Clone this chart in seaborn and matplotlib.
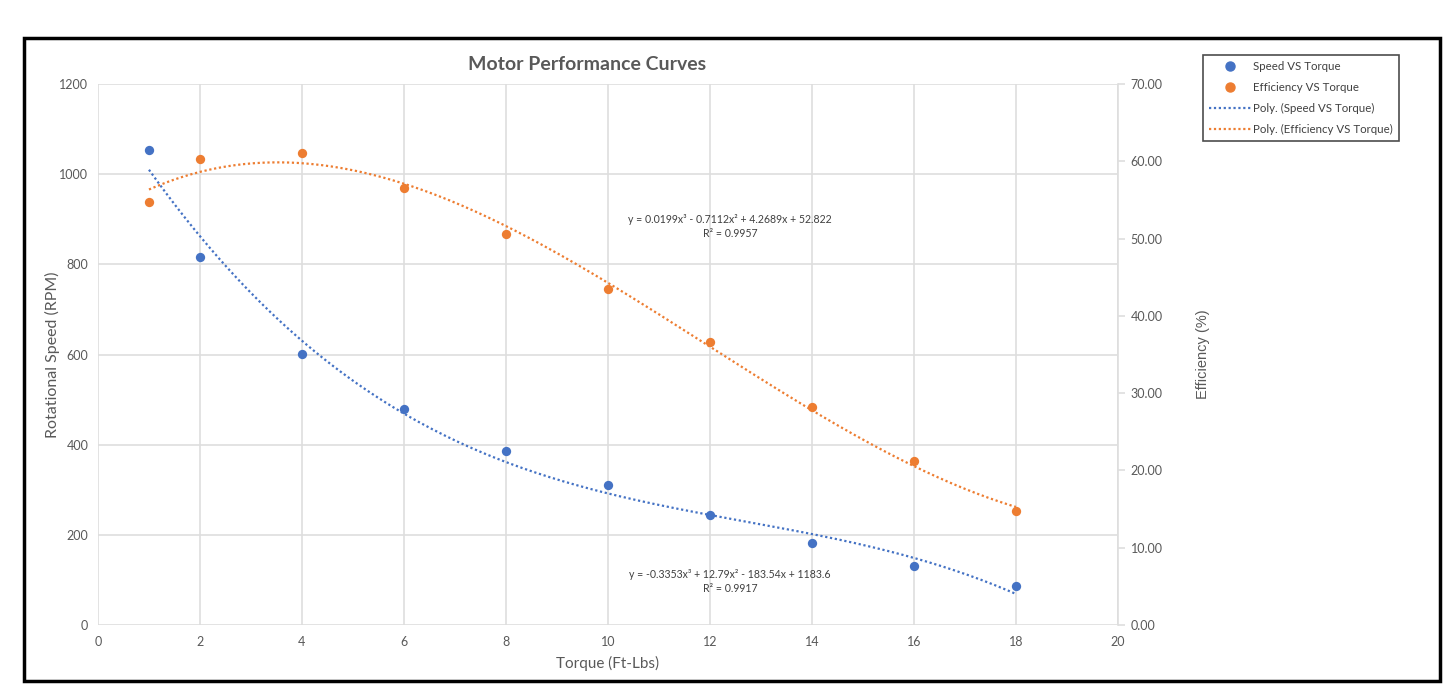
import numpy as np
import matplotlib
matplotlib.use("Agg")
import matplotlib.pyplot as plt
import seaborn as sb
from matplotlib.lines import Line2D
from matplotlib.patches import Rectangle

# data
torque = [1, 2, 4, 6, 8, 10, 12, 14, 16, 18]
speed = [1055, 817, 601, 479, 386, 310, 244, 181, 131, 86]
efficiency = [54.7, 60.3, 61.1, 56.6, 50.6, 43.5, 36.6, 28.2, 21.2, 14.7]

speed_eq = "y = -0.3353x³ + 12.79x² - 183.54x + 1183.6\nR² = 0.9917"
eff_eq = "y = 0.0199x³ - 0.7112x² + 4.2689x + 52.822\nR² = 0.9957"

blue = "#4472C4"
orange = "#ED7D31"
grey_txt = "#595959"
grid_c = "#DEDEDE"

sb.set_style("white")
plt.rcParams["font.family"] = ["Lato", "DejaVu Sans"]

fig = plt.figure(figsize=(14.45, 6.96), dpi=100)
ax = fig.add_axes([0.0678, 0.102, 0.7059, 0.777])
ax2 = ax.twinx()

# cubic trend lines, like Excel's "Poly." trendline
xs = np.linspace(1, 18, 200)
sp_fit = np.polyval(np.polyfit(torque, speed, 3), xs)
ef_fit = np.polyval(np.polyfit(torque, efficiency, 3), xs)

sb.scatterplot(x=torque, y=speed, ax=ax, color=blue, s=45, edgecolor=blue, linewidth=0, zorder=3)
ax.plot(xs, sp_fit, color=blue, linestyle=(0, (1, 1.2)), linewidth=1.6, zorder=2)
sb.scatterplot(x=torque, y=efficiency, ax=ax2, color=orange, s=45, edgecolor=orange, linewidth=0, zorder=3)
ax2.plot(xs, ef_fit, color=orange, linestyle=(0, (1, 1.2)), linewidth=1.6, zorder=2)

ax.set_xlim(0, 20)
ax.set_ylim(0, 1200)
ax2.set_ylim(0, 70)
ax.set_xticks(range(0, 21, 2))
ax.set_yticks(range(0, 1201, 200))
ax2.set_yticks(range(0, 71, 10))
ax2.set_yticklabels([f"{v:.2f}" for v in range(0, 71, 10)])

ax.grid(True, color=grid_c, linewidth=1.2)
ax.set_axisbelow(True)
ax2.grid(False)
for a in (ax, ax2):
    for s in a.spines.values():
        s.set_visible(False)
ax2.spines["right"].set_visible(True)
ax2.spines["right"].set_color(grid_c)
ax2.spines["right"].set_linewidth(1.2)

ax.tick_params(axis="both", length=0, labelsize=9, labelcolor=grey_txt, pad=8)
ax.tick_params(axis="y", pad=7)
ax2.tick_params(axis="y", length=5, color=grid_c, width=1.2, labelsize=9, labelcolor=grey_txt, pad=4)

ax.set_xlabel("Torque (Ft-Lbs)", fontsize=11, color=grey_txt)
ax.xaxis.set_label_coords(0.5, -0.058)
ax.set_ylabel("Rotational Speed (RPM)", fontsize=11.5, color=grey_txt)
ax.yaxis.set_label_coords(-0.037, 0.5)
ax2.set_ylabel("Efficiency (%)", fontsize=10.5, color=grey_txt, family="Liberation Sans")
ax2.yaxis.set_label_coords(1.076, 0.5)

ax.set_title("Motor Performance Curves", fontsize=14, fontweight="bold", color=grey_txt,
             x=0.479, y=1.0, pad=10)

ax.text(12.39, 885, eff_eq, ha="center", va="center", fontsize=7.6, color="#404040", linespacing=1.35)
ax.text(12.39, 97, speed_eq, ha="center", va="center", fontsize=7.6, color="#404040", linespacing=1.35)

handles = [
    Line2D([], [], marker="o", linestyle="none", color=blue, markersize=6.5),
    Line2D([], [], marker="o", linestyle="none", color=orange, markersize=6.5),
    Line2D([], [], color=blue, linestyle=(0, (1, 1.2)), linewidth=1.6),
    Line2D([], [], color=orange, linestyle=(0, (1, 1.2)), linewidth=1.6),
]
labels = ["Speed VS Torque", "Efficiency VS Torque",
          "Poly. (Speed VS Torque)", "Poly. (Efficiency VS Torque)"]
leg = fig.legend(handles, labels, loc="upper left", bbox_to_anchor=(0.8325, 0.921),
                 fontsize=8.3, frameon=True, fancybox=False, edgecolor="#202020",
                 handlelength=3.6, labelspacing=0.85, borderpad=0.55, handletextpad=0.2,
                 borderaxespad=0)
leg.get_frame().set_linewidth(1.2)
for t in leg.get_texts():
    t.set_color("#404040")

# outer chart border
fig.patches.append(Rectangle((0.0166, 0.0216), 0.98, 0.9234, transform=fig.transFigure,
                             fill=False, edgecolor="black", linewidth=2.5))

fig.savefig("out.png", dpi=100)
